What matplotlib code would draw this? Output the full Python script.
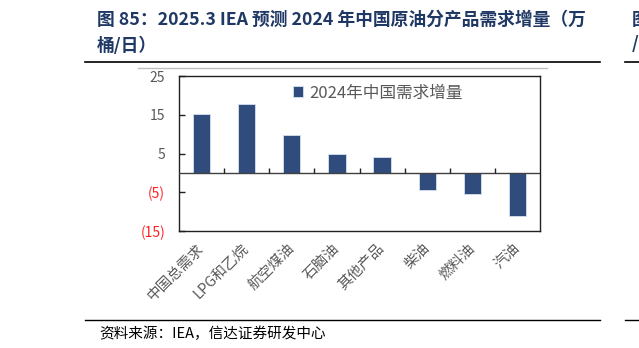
import matplotlib
matplotlib.use('Agg')
import matplotlib.pyplot as plt
import numpy as np

plt.rcParams['font.family'] = ['Noto Sans CJK SC', 'DejaVu Sans']

# 2024 China demand growth by product (kb/d)
categories = ['中国总需求', 'LPG和乙烷', '航空煤油', '石脑油', '其他产品', '柴油', '燃料油', '汽油']
values = [15.2, 17.8, 9.7, 4.9, 4.2, -4.5, -5.4, -11.2]
yticks = [25, 15, 5, -5, -15]
series_name = '2024年中国需求增量'

title = '图 85：2025.3 IEA 预测 2024 年中国原油分产品需求增量（万\n桶/日）'
source = '资料来源：IEA，信达证券研发中心'

bar_color = '#2F4C7C'
grey = '#595959'


def fmt(v):
    return f'({abs(v)})' if v < 0 else f'{v}'


def main():
    fig = plt.figure(figsize=(6.39, 3.48), dpi=100)
    ax = fig.add_axes([0.2801, 0.3362, 0.565, 0.4454])

    x = np.arange(len(categories))
    ax.bar(x, values, width=0.385, color=bar_color, edgecolor='#D6E0F0',
           linewidth=0.6, label=series_name, zorder=2)
    ax.axhline(0, color='#404040', linewidth=1.0, zorder=3)
    # small ticks on the zero line between categories
    ax.vlines(x[:-1] + 0.5, 0, 1.3, color='#202020', linewidth=1.0, zorder=3)

    ax.set_xlim(-0.5, len(categories) - 0.5)
    ax.set_ylim(-15, 25)
    ax.set_yticks(yticks)
    ax.set_yticklabels([fmt(v) for v in yticks], fontsize=10)
    ax.tick_params(axis='y', direction='in', length=4, width=1, pad=10, colors='#202020')
    for lab, v in zip(ax.get_yticklabels(), yticks):
        lab.set_color('#FF2020' if v < 0 else grey)

    ax.set_xticks(x)
    ax.set_xticklabels(categories, rotation=45, ha='right', va='center',
                       rotation_mode='anchor', fontsize=10.5, color=grey)
    ax.tick_params(axis='x', length=0, pad=11)

    for sp in ax.spines.values():
        sp.set_color('#202020')
        sp.set_linewidth(1.0)

    ax.legend(loc='center left', bbox_to_anchor=(0.275, 0.89), frameon=False,
              fontsize=12, handlelength=0.6, handleheight=0.6, handletextpad=0.35,
              labelcolor=grey)

    fig.text(97 / 639, 1 - 33 / 348, title, fontsize=12.8, fontweight='bold',
             color='#1F3864', ha='left', va='center', linespacing=1.55)
    fig.add_artist(plt.Line2D([85 / 639, 600 / 639], [1 - 62 / 348] * 2,
                              color='#000000', linewidth=1.2))
    fig.add_artist(plt.Line2D([138 / 639, 547 / 639], [1 - 68 / 348] * 2,
                              color='#BFBFBF', linewidth=1.0))
    fig.add_artist(plt.Line2D([85 / 639, 600 / 639], [1 - 320 / 348] * 2,
                              color='#000000', linewidth=1.0))
    # edge of the neighbouring column
    fig.add_artist(plt.Line2D([625 / 639, 1.0], [1 - 62 / 348] * 2,
                              color='#000000', linewidth=1.2))
    fig.add_artist(plt.Line2D([625 / 639, 1.0], [1 - 320 / 348] * 2,
                              color='#000000', linewidth=1.0))
    fig.text(632 / 639, 1 - 20 / 348, '图', fontsize=12.5, fontweight='bold',
             color='#1F3864', ha='left', va='center')
    fig.text(632 / 639, 1 - 44 / 348, '/', fontsize=12.5, fontweight='bold',
             color='#1F3864', ha='left', va='center')

    fig.text(99 / 639, 1 - 334 / 348, source, fontsize=10.5, style='italic',
             color='#000000', ha='left', va='center')

    fig.savefig('out.png', dpi=100)


if __name__ == '__main__':
    main()
